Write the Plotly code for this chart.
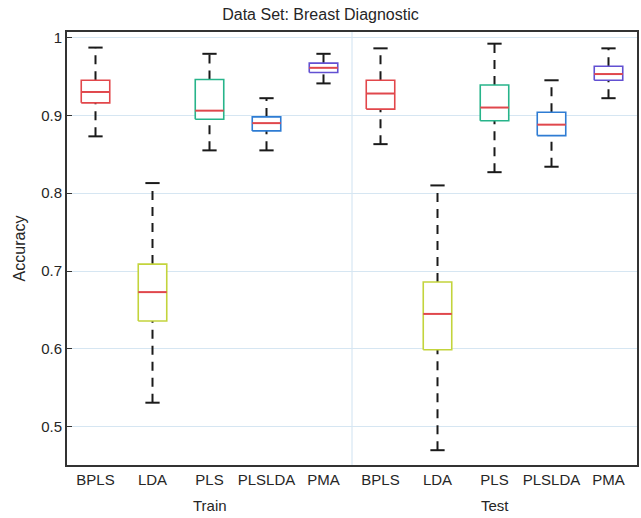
import plotly.graph_objects as go

# box statistics
methods = ["BPLS", "LDA", "PLS", "PLSLDA", "PMA"]
groups = ["Train", "Test"]

train_lo = [0.873, 0.531, 0.855, 0.855, 0.941]
train_q1 = [0.916, 0.636, 0.895, 0.880, 0.955]
train_med = [0.930, 0.673, 0.906, 0.890, 0.961]
train_q3 = [0.945, 0.709, 0.946, 0.898, 0.967]
train_hi = [0.987, 0.813, 0.979, 0.922, 0.979]

test_lo = [0.863, 0.470, 0.827, 0.834, 0.922]
test_q1 = [0.908, 0.599, 0.893, 0.874, 0.945]
test_med = [0.928, 0.645, 0.910, 0.888, 0.953]
test_q3 = [0.945, 0.686, 0.939, 0.904, 0.963]
test_hi = [0.986, 0.810, 0.992, 0.945, 0.986]

box_colors = ["#e2474b", "#c3d43c", "#27b48a", "#2e7cd3", "#6250d2"]
median_color = "#e0474c"
whisker_color = "#1a1a1a"

ytick_vals = [0.5, 0.6, 0.7, 0.8, 0.9, 1.0]
ytick_text = ["0.5", "0.6", "0.7", "0.8", "0.9", "1"]

lo = train_lo + test_lo
q1 = train_q1 + test_q1
med = train_med + test_med
q3 = train_q3 + test_q3
hi = train_hi + test_hi
labels = methods + methods
colors = box_colors + box_colors
pos = list(range(1, len(labels) + 1))

half = 0.25
cap = 0.125

fig = go.Figure()

# dashed whiskers
wx, wy = [], []
cx, cy = [], []
for p, a, b, c, d in zip(pos, lo, q1, q3, hi):
    wx += [p, p, None, p, p, None]
    wy += [c, d, None, a, b, None]
    cx += [p - cap, p + cap, None, p - cap, p + cap, None]
    cy += [d, d, None, a, a, None]
fig.add_trace(go.Scatter(x=wx, y=wy, mode="lines", hoverinfo="skip",
                         line=dict(color=whisker_color, width=2, dash="9px,7px")))
fig.add_trace(go.Scatter(x=cx, y=cy, mode="lines", hoverinfo="skip",
                         line=dict(color=whisker_color, width=2)))

# boxes
for p, b, m, c, col, name in zip(pos, q1, med, q3, colors, labels):
    fig.add_trace(go.Scatter(
        x=[p - half, p + half, p + half, p - half, p - half],
        y=[b, b, c, c, b], mode="lines", fill="toself", fillcolor="white",
        line=dict(color=col, width=1.6), name=name, hoverinfo="skip"))
    fig.add_trace(go.Scatter(x=[p - half, p + half], y=[m, m], mode="lines",
                             line=dict(color=median_color, width=2), hoverinfo="skip"))

# separator between groups
fig.add_vline(x=len(methods) + 0.5, line=dict(color="#cfe2f1", width=1), layer="below")

for i, g in enumerate(groups):
    fig.add_annotation(x=(len(methods) + 1) / 2 + i * len(methods), y=-0.07,
                       xref="x", yref="paper", text=g, showarrow=False,
                       font=dict(size=15, color="#262626"), yanchor="top")

fig.update_layout(
    width=641, height=518,
    margin=dict(l=67, r=2, t=32, b=53),
    paper_bgcolor="white", plot_bgcolor="white",
    showlegend=False,
    font=dict(family="Liberation Sans, Arial, sans-serif", size=15, color="#262626"),
    title=dict(text="Data Set: Breast Diagnostic", x=0.5, xanchor="center",
               y=0.972, yanchor="middle", font=dict(size=16, color="#262626")),
)
fig.update_xaxes(range=[0.5, len(labels) + 0.5], tickvals=pos, ticktext=labels,
                 showgrid=False, zeroline=False, showline=True, linecolor="#333333",
                 linewidth=2, mirror=True, ticks="", tickfont=dict(size=15))
fig.update_yaxes(range=[0.451, 1.007], tickvals=ytick_vals, ticktext=ytick_text,
                 showgrid=True, gridcolor="#d6e6f2", gridwidth=1, zeroline=False,
                 showline=True, linecolor="#333333", linewidth=2, mirror=True,
                 ticks="inside", ticklen=5, tickcolor="#333333",
                 title=dict(text="Accuracy", font=dict(size=16), standoff=12))

fig.write_html("out.html", config={"displayModeBar": False},
               post_script="document.body.style.margin='0';")
